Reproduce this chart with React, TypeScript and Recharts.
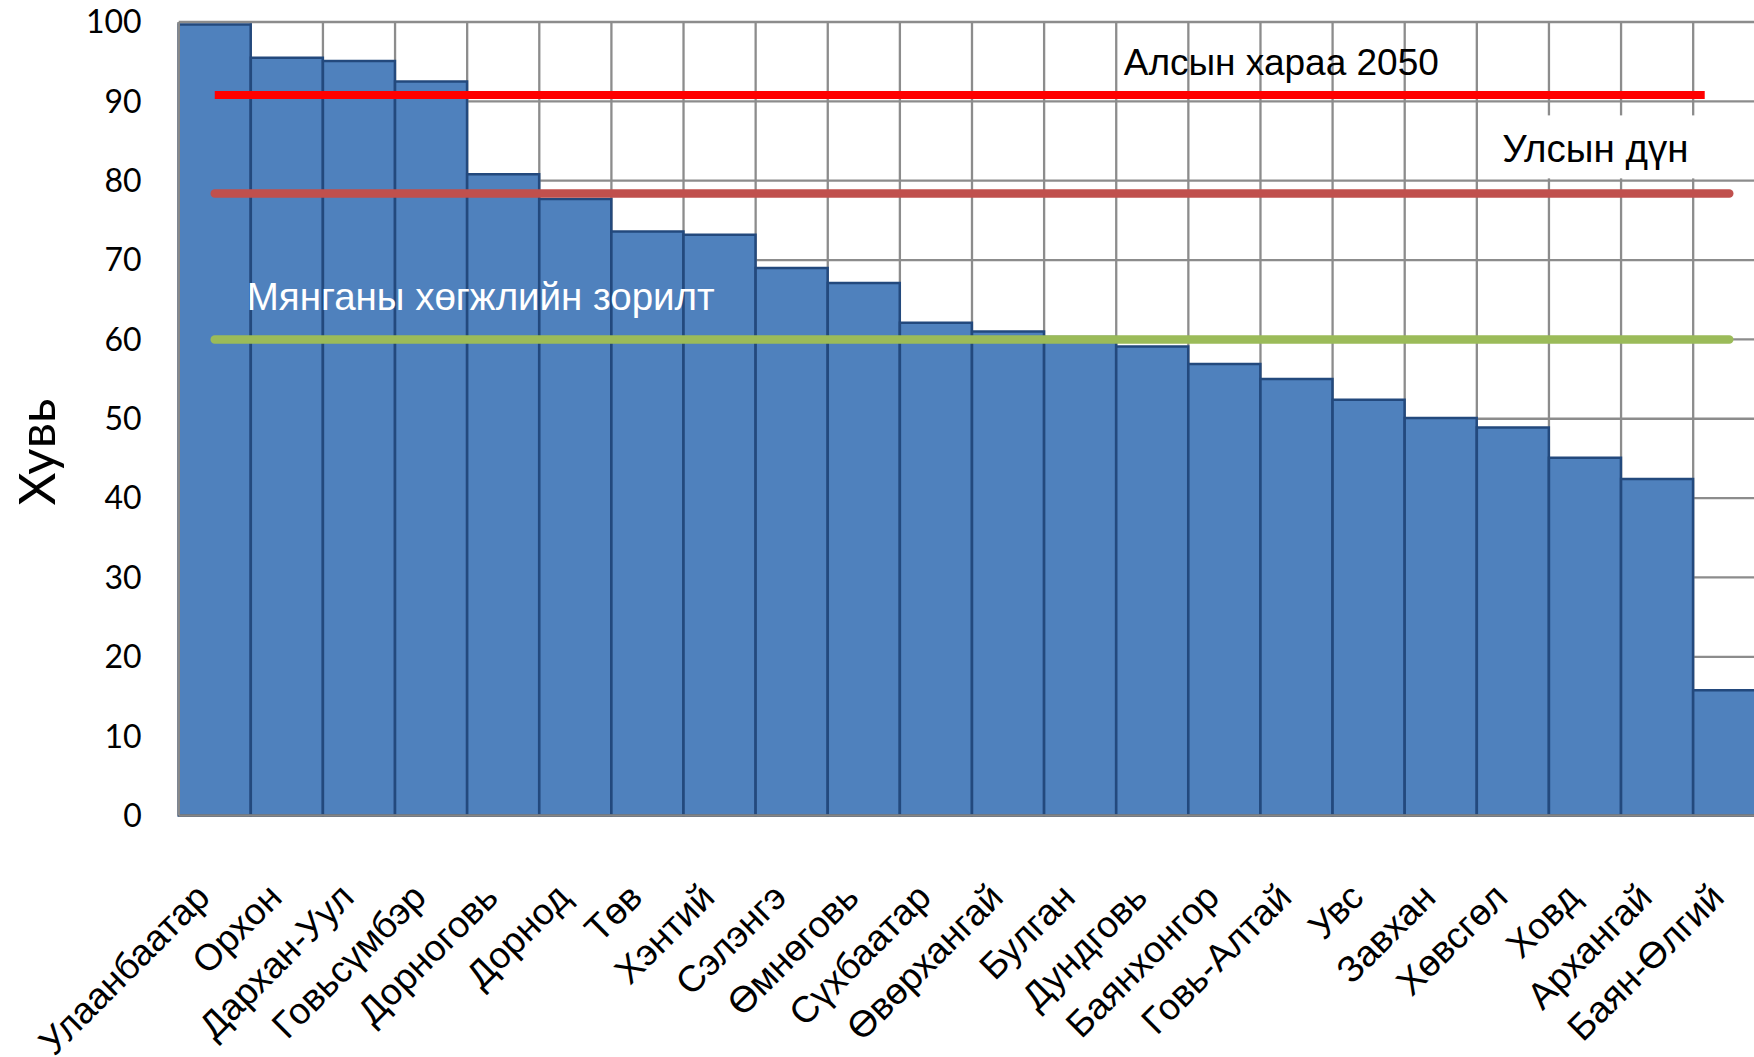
import React from 'react';
import { BarChart, Bar, XAxis, YAxis, CartesianGrid, ReferenceLine } from 'recharts';

// ---- data ----
const aimags = [
  'Улаанбаатар', 'Орхон', 'Дархан-Уул', 'Говьсүмбэр', 'Дорноговь', 'Дорнод', 'Төв', 'Хэнтий',
  'Сэлэнгэ', 'Өмнөговь', 'Сүхбаатар', 'Өвөрхангай', 'Булган', 'Дундговь', 'Баянхонгор',
  'Говь-Алтай', 'Увс', 'Завхан', 'Хөвсгөл', 'Ховд', 'Архангай', 'Баян-Өлгий',
];
const shares = [
  99.7, 95.5, 95.1, 92.5, 80.8, 77.7, 73.6, 73.2, 69.0, 67.1, 62.1, 61.0, 60.3, 59.1, 56.9,
  55.0, 52.4, 50.1, 48.9, 45.1, 42.4, 15.8,
];
const yTicks = [0, 10, 20, 30, 40, 50, 60, 70, 80, 90, 100];
const VISION_2050 = 90.8;
const NATIONAL = 78.4;
const MDG = 60;
// the "vision 2050" bar is a free-drawn line ending part-way (index units) before the last category
const VISION_END_INDEX = 20.66;

const labelVision = 'Алсын хараа 2050';
const labelNational = 'Улсын дүн';
const labelMdg = 'Мянганы хөгжлийн зорилт';
const yTitle = 'Хувь';

const data = aimags.map((name, i) => ({ name, value: shares[i] }));

const ARIAL = "'Liberation Sans', Arial, sans-serif";
const CALIBRI = "Lato, 'Open Sans', sans-serif";

const XTick = (props: any) => {
  const { x, y, payload } = props;
  return (
    <g transform={`translate(${x - 3},${y + 84}) rotate(-45)`}>
      <text textAnchor="end" fontFamily={ARIAL} fontSize={37} fill="#000">
        {payload.value}
      </text>
    </g>
  );
};

const VisionLabel = (props: any) => {
  const vb = props.viewBox || {};
  return (
    <text x={vb.x + 909} y={vb.y - 20} fontFamily={ARIAL} fontSize={37} fill="#000">
      {labelVision}
    </text>
  );
};

const NationalLabel = (props: any) => {
  const vb = props.viewBox || {};
  const right = vb.x + vb.width;
  return (
    <g>
      <rect x={right - 242} y={vb.y - 78} width={218} height={63} fill="#fff" />
      <text x={right - 227} y={vb.y - 31} fontFamily={ARIAL} fontSize={38.5} fill="#000">
        {labelNational}
      </text>
    </g>
  );
};

const MdgLabel = (props: any) => {
  const vb = props.viewBox || {};
  return (
    <text x={vb.x + 32} y={vb.y - 29} fontFamily={ARIAL} fontSize={38.5} fill="#fff">
      {labelMdg}
    </text>
  );
};

const VisionShape = (props: any) => {
  const { x1, y1, x2, y2 } = props;
  if (x1 == null || x2 == null) return null;
  const lastIndex = aimags.length - 1;
  const xEnd = x1 + ((x2 - x1) * VISION_END_INDEX) / lastIndex;
  return <line x1={x1} y1={y1} x2={xEnd} y2={y2} stroke="#ff0000" strokeWidth={8} />;
};

const YTitle = () => (
  <text
    transform="translate(35,452) rotate(-90)"
    textAnchor="middle"
    dominantBaseline="central"
    fontFamily={CALIBRI}
    fontSize={51}
    fill="#000"
  >
    {yTitle}
  </text>
);

const slotBoundaries = ({ offset }: any) => {
  const n = aimags.length;
  const out: number[] = [];
  for (let i = 0; i <= n; i++) out.push(offset.left + (offset.width * i) / n);
  return out;
};

export default function App() {
  return (
    <div
      style={{
        position: 'absolute',
        left: 0,
        top: 0,
        width: 1754,
        height: 1057,
        overflow: 'hidden',
        background: '#fff',
      }}
    >
      <BarChart
        width={1780}
        height={1057}
        data={data}
        margin={{ top: 22, right: 14.7, bottom: 0, left: 0 }}
        barCategoryGap={0}
        barGap={0}
      >
        <CartesianGrid
          stroke="#8c8c8c"
          strokeWidth={2.3}
          verticalCoordinatesGenerator={slotBoundaries}
        />
        <XAxis
          dataKey="name"
          interval={0}
          height={241.5}
          tickSize={0}
          tickMargin={0}
          tickLine={false}
          axisLine={{ stroke: '#858585', strokeWidth: 2.6 }}
          tick={<XTick />}
        />
        <YAxis
          domain={[0, 100]}
          ticks={yTicks}
          interval={0}
          width={178.7}
          tickSize={0}
          tickMargin={37}
          tickLine={false}
          axisLine={{ stroke: '#8a8a8a', strokeWidth: 2.5 }}
          tick={{ fontFamily: CALIBRI, fontSize: 32, fill: '#000' }}
        />
        <Bar
          dataKey="value"
          fill="#4f81bd"
          stroke="#23497d"
          strokeWidth={2.5}
          isAnimationActive={false}
        />
        <ReferenceLine
          segment={[
            { x: aimags[0], y: MDG },
            { x: aimags[aimags.length - 1], y: MDG },
          ]}
          stroke="#9bbb59"
          strokeWidth={8.5}
          strokeLinecap="round"
          ifOverflow="visible"
          label={(p: any) => <MdgLabel {...p} />}
        />
        <ReferenceLine
          segment={[
            { x: aimags[0], y: NATIONAL },
            { x: aimags[aimags.length - 1], y: NATIONAL },
          ]}
          stroke="#c0504d"
          strokeWidth={8.5}
          strokeLinecap="round"
          ifOverflow="visible"
          label={(p: any) => <NationalLabel {...p} />}
        />
        <ReferenceLine
          segment={[
            { x: aimags[0], y: VISION_2050 },
            { x: aimags[aimags.length - 1], y: VISION_2050 },
          ]}
          stroke="#ff0000"
          strokeWidth={8}
          ifOverflow="visible"
          shape={(p: any) => <VisionShape {...p} />}
          label={(p: any) => <VisionLabel {...p} />}
        />
        <YTitle />
      </BarChart>
    </div>
  );
}
